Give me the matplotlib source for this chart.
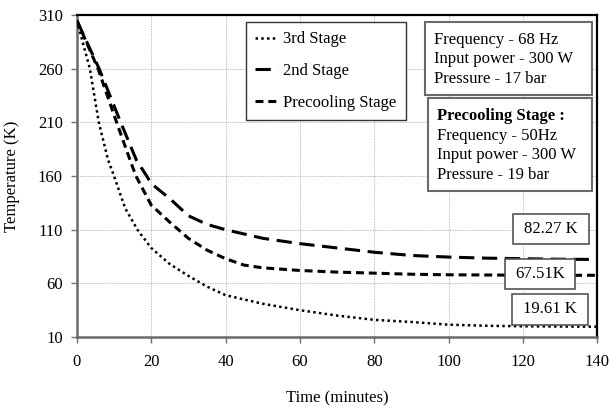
import matplotlib
matplotlib.use('Agg')
import matplotlib.pyplot as plt
from matplotlib.patches import Rectangle

t_3rd = [0, 3.5, 5.9, 8.4, 10, 13, 16.3, 20, 25, 30, 35, 40, 50, 60, 70, 80, 90, 100, 110, 120, 130, 140]
T_3rd = [305, 260, 210, 175, 160, 130, 110, 93, 78, 67, 57, 49, 41, 35, 30, 26, 24, 21.5, 20.5, 20, 19.8, 19.61]

t_2nd = [0, 6, 11.8, 16, 18.8, 20, 25, 30, 35, 40, 50, 60, 70, 80, 90, 100, 110, 120, 130, 140]
T_2nd = [305, 260, 210, 175, 160, 153, 139, 123, 115, 110, 102, 97, 93, 89, 86, 84.5, 83.5, 83, 82.5, 82.27]

t_pre = [0, 5.7, 10.7, 14.3, 15.9, 20, 25, 30, 35, 40, 45, 50, 60, 70, 80, 90, 100, 110, 120, 130, 140]
T_pre = [305, 260, 210, 175, 160, 133, 117, 102, 91, 83, 77, 74.5, 72, 70.5, 69.5, 68.5, 68, 67.8, 67.6, 67.5, 67.51]

xticks = [0, 20, 40, 60, 80, 100, 120, 140]
yticks = [10, 60, 110, 160, 210, 260, 310]
end_labels = ['82.27 K', '67.51K', '19.61 K']
info1 = 'Frequency - 68 Hz\nInput power - 300 W\nPressure - 17 bar'
info2_title = 'Precooling Stage :'
info2 = 'Frequency - 50Hz\nInput power - 300 W\nPressure - 19 bar'

plt.rcParams['font.family'] = ['Liberation Serif', 'DejaVu Serif']
plt.rcParams['font.size'] = 12

fig = plt.figure(figsize=(6.1, 4.08), dpi=100)
ax = fig.add_axes([0.126, 0.174, 0.853, 0.789])

ax.plot(t_3rd, T_3rd, color='k', lw=1.8, ls=(0, (1, 1.3)), label='3rd Stage', zorder=3)
ax.plot(t_2nd, T_2nd, color='k', lw=2.2, ls=(0, (5, 2.5)), label='2nd Stage', zorder=3)
ax.plot(t_pre, T_pre, color='k', lw=2.2, ls=(0, (2.6, 1.6)), label='Precooling Stage', zorder=3)

ax.set_xlim(0, 140)
ax.set_ylim(10, 310)
ax.set_xticks(xticks)
ax.set_yticks(yticks)
ax.grid(True, color='#ababab', ls=(0, (1.5, 1.5)), lw=0.6)
ax.tick_params(direction='out', length=4, width=1, color='#707070', pad=8)
ax.tick_params(axis='y', pad=6)
for s in ['top', 'right']:
    ax.spines[s].set_color('k')
    ax.spines[s].set_linewidth(1.6)
for s in ['left', 'bottom']:
    ax.spines[s].set_color('#6a6a6a')
    ax.spines[s].set_linewidth(1.8)

ax.set_xlabel('Time (minutes)', labelpad=15)
ax.set_ylabel('Temperature (K)', labelpad=13)

leg = ax.legend(loc='upper left', bbox_to_anchor=(0.325, 0.978), borderaxespad=0,
                fancybox=False, framealpha=1, edgecolor='#333333', handlelength=1.4,
                handletextpad=0.3, labelspacing=0.95, borderpad=0.55, fontsize=12)
leg.get_frame().set_linewidth(1.0)

def box(x0, y0, x1, y1, lw=1.2, ec='#555555'):
    ax.add_patch(Rectangle((x0, y0), x1 - x0, y1 - y0, transform=ax.transAxes,
                           facecolor='white', edgecolor=ec, lw=lw, zorder=5))

box(0.669, 0.752, 0.990, 0.978, lw=1.5, ec='#6a6a6a')
ax.text(0.686, 0.948, info1, transform=ax.transAxes, ha='left', va='top',
        linespacing=1.3, zorder=6)
box(0.675, 0.453, 0.990, 0.742, lw=1.5, ec='#6a6a6a')
ax.text(0.692, 0.712, info2_title, transform=ax.transAxes, ha='left', va='top',
        fontweight='bold', zorder=6)
ax.text(0.692, 0.650, info2, transform=ax.transAxes, ha='left', va='top',
        linespacing=1.3, zorder=6)

# end value labels
label_boxes = [(0.838, 0.289, 0.985, 0.382), (0.823, 0.149, 0.958, 0.242), (0.836, 0.038, 0.983, 0.134)]
for (x0, y0, x1, y1), s in zip(label_boxes, end_labels):
    box(x0, y0, x1, y1)
    ax.text((x0 + x1) / 2, (y0 + y1) / 2, s, transform=ax.transAxes, ha='center',
            va='center', zorder=6)

fig.savefig('out.png', dpi=100)
